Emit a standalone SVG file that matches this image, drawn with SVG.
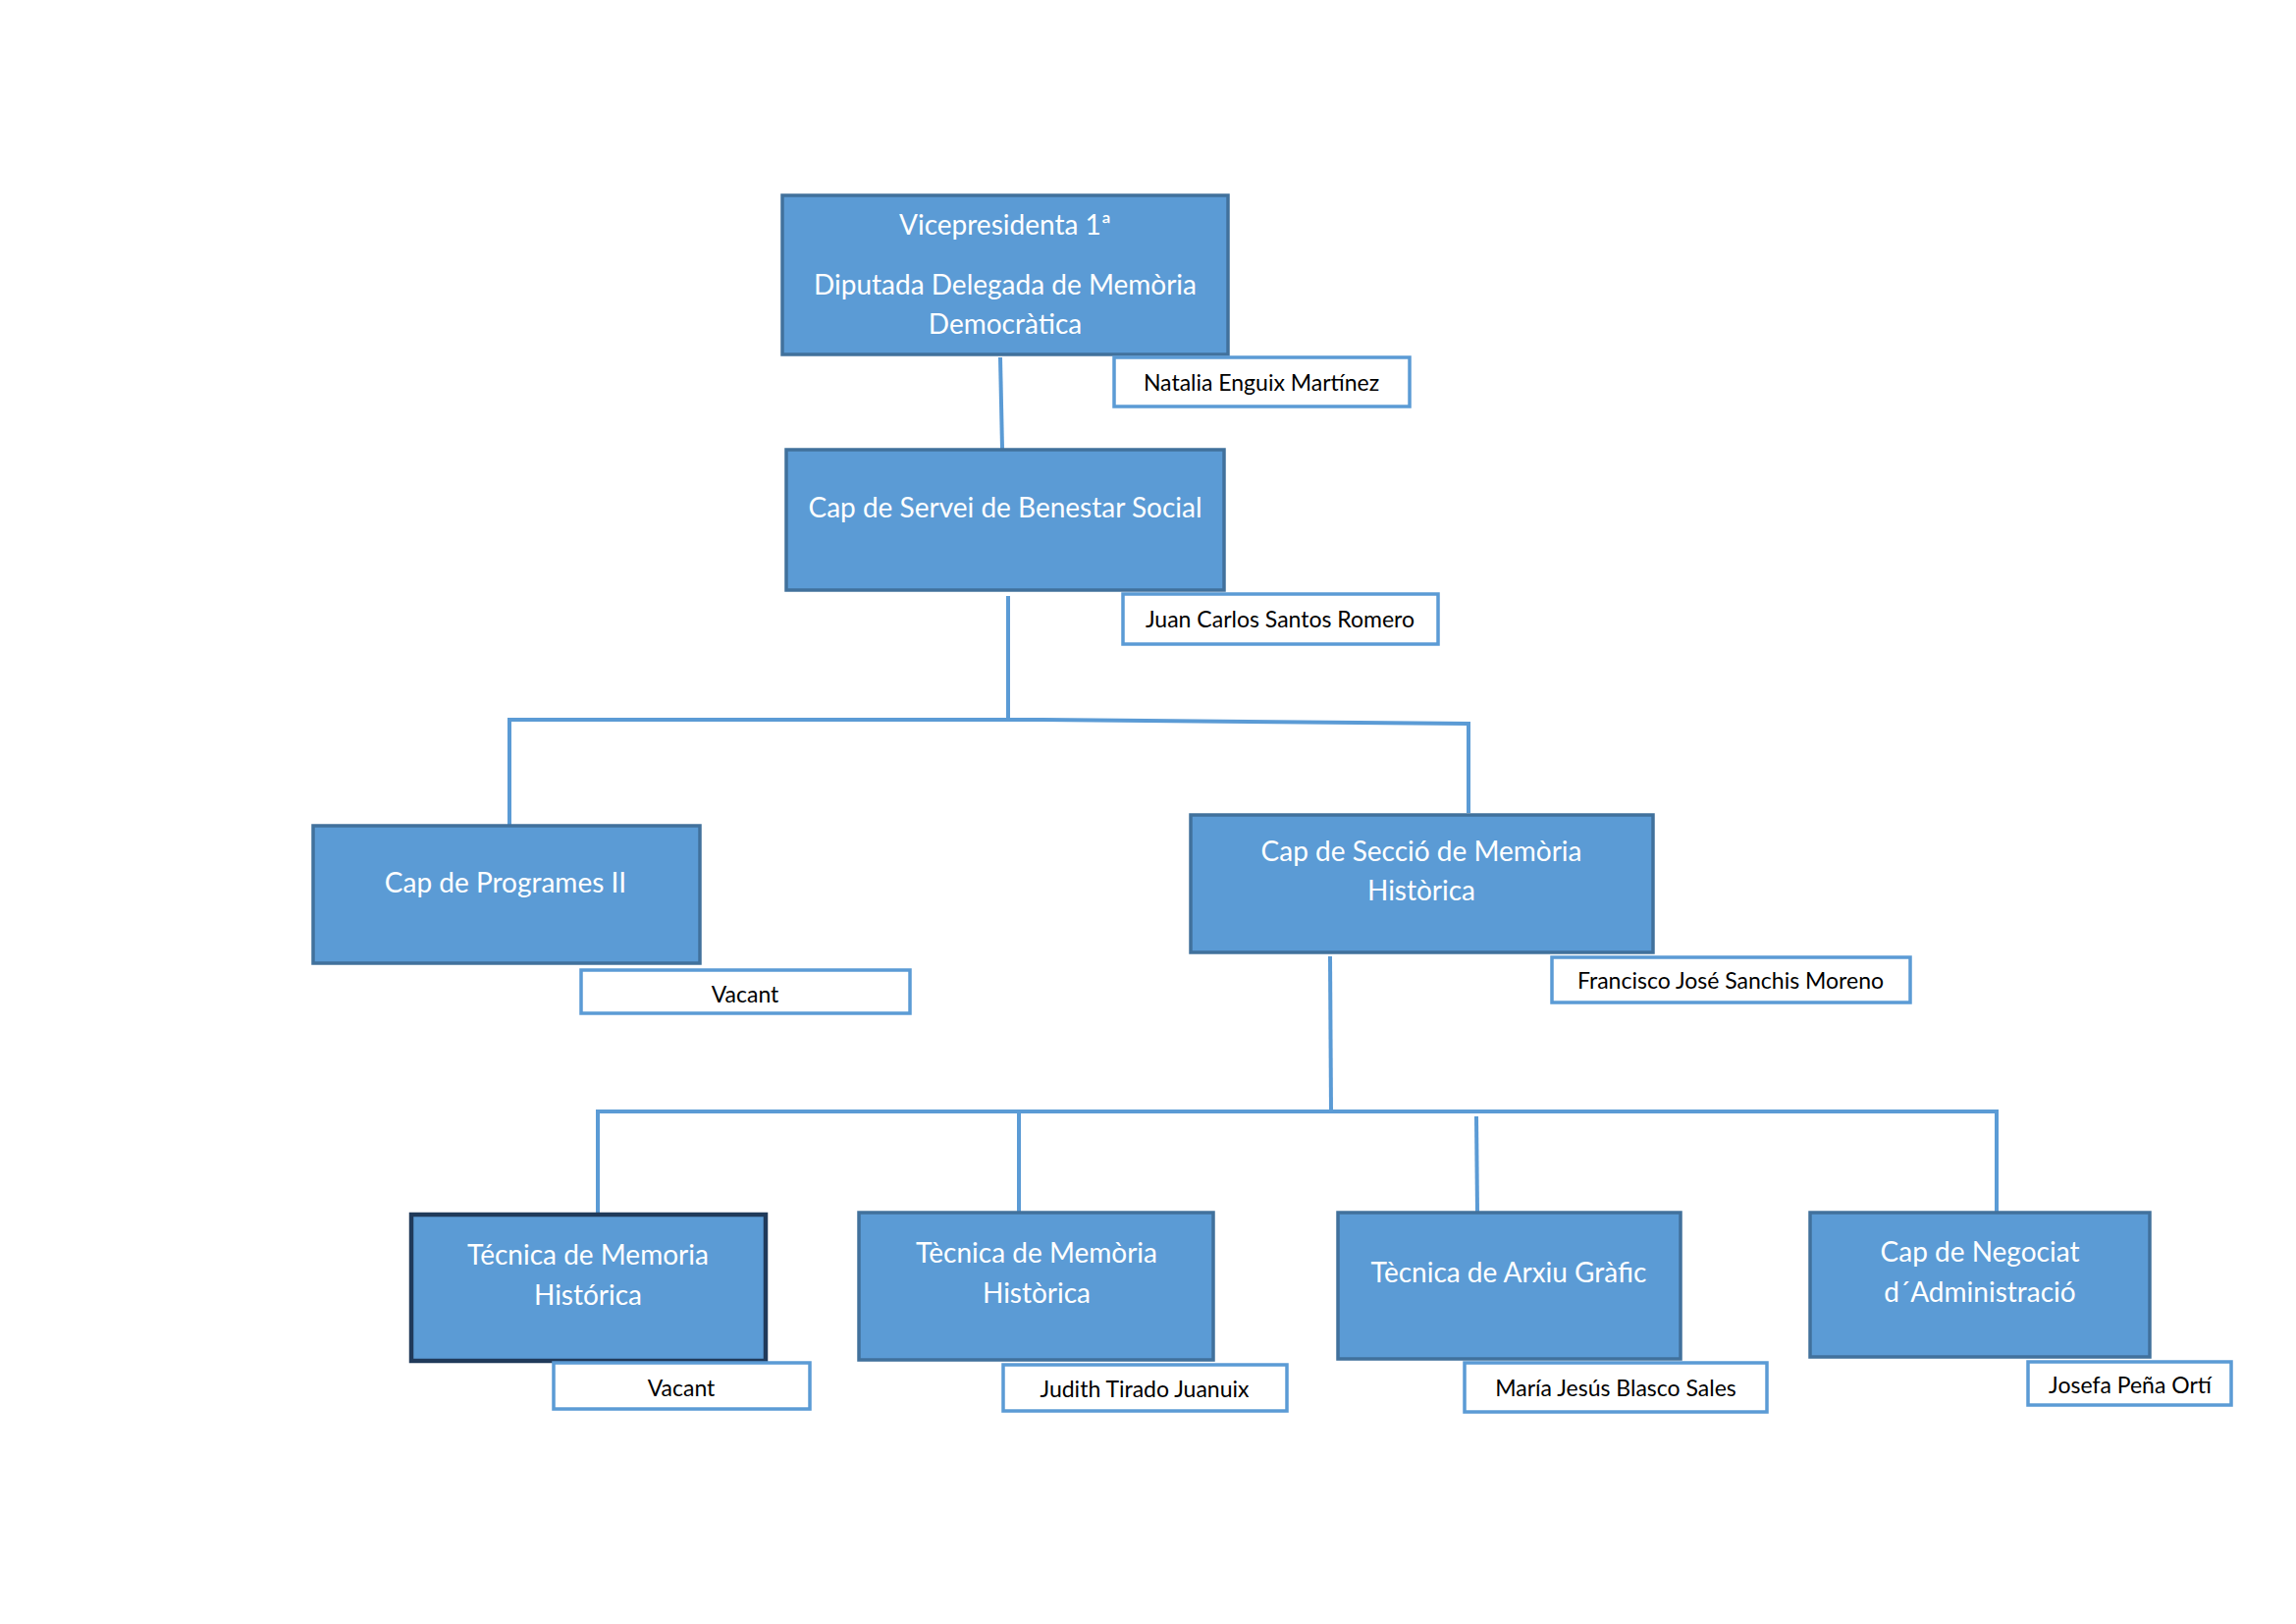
<svg xmlns="http://www.w3.org/2000/svg" width="2339" height="1654" viewBox="0 0 2339 1654">
<style>
.box{fill:#5B9BD5;stroke:#41719C;stroke-width:3.5}
.dark{fill:#5B9BD5;stroke:#203A5A;stroke-width:4.5}
.name{fill:#FFFFFF;stroke:#5B9BD5;stroke-width:3.5}
.t{font-family:Lato,"Liberation Sans",sans-serif;font-size:28px;fill:#FFFFFF;text-anchor:middle}
.n{font-family:Lato,"Liberation Sans",sans-serif;font-size:23px;fill:#000000;text-anchor:middle}
.c{fill:none;stroke:#5B9BD5;stroke-width:4}
</style>
<rect width="2339" height="1654" fill="#FFFFFF"/>
<g id="connectors">
<path class="c" d="M1019,364 L1021,457"/>
<path class="c" d="M1027,607 V733"/>
<path class="c" d="M519,840 V733 H1063 L1496,737 V828"/>
<path class="c" d="M1355,974 L1356,1132"/>
<path class="c" d="M609,1235 V1132 H2034 V1234"/>
<path class="c" d="M1038,1132 V1234"/>
<path class="c" d="M1504,1137 L1505,1234"/>
</g>
<g id="vicepresidenta">
<rect class="box" x="797" y="199" width="454" height="162"/>
<text class="t" x="1024" y="239">Vicepresidenta 1ª</text>
<text class="t" x="1024" y="300">Diputada Delegada de Memòria</text>
<text class="t" x="1024" y="340">Democràtica</text>
</g>
<g id="cap-servei">
<rect class="box" x="801" y="458" width="446" height="143"/>
<text class="t" x="1024" y="527">Cap de Servei de Benestar Social</text>
</g>
<g id="cap-programes">
<rect class="box" x="319" y="841" width="394" height="140"/>
<text class="t" x="515" y="909">Cap de Programes II</text>
</g>
<g id="cap-seccio">
<rect class="box" x="1213" y="830" width="471" height="140"/>
<text class="t" x="1448" y="877">Cap de Secció de Memòria</text>
<text class="t" x="1448" y="917">Històrica</text>
</g>
<g id="tecnica-memoria-historica">
<rect class="dark" x="419" y="1237" width="361" height="149"/>
<text class="t" x="599" y="1288">Técnica de Memoria</text>
<text class="t" x="599" y="1329">Histórica</text>
</g>
<g id="tecnica-memoria">
<rect class="box" x="875" y="1235" width="361" height="150"/>
<text class="t" x="1056" y="1286">Tècnica de Memòria</text>
<text class="t" x="1056" y="1327">Històrica</text>
</g>
<g id="tecnica-arxiu">
<rect class="box" x="1363" y="1235" width="349" height="149"/>
<text class="t" x="1537" y="1306">Tècnica de Arxiu Gràfic</text>
</g>
<g id="cap-negociat">
<rect class="box" x="1844" y="1235" width="346" height="147"/>
<text class="t" x="2017" y="1285">Cap de Negociat</text>
<text class="t" x="2017" y="1326">d´Administració</text>
</g>
<g id="name-natalia">
<rect class="name" x="1135" y="364" width="301" height="50"/>
<text class="n" x="1285" y="398">Natalia Enguix Martínez</text>
</g>
<g id="name-juan-carlos">
<rect class="name" x="1144" y="605" width="321" height="51"/>
<text class="n" x="1304" y="639">Juan Carlos Santos Romero</text>
</g>
<g id="name-vacant-programes">
<rect class="name" x="592" y="988" width="335" height="44"/>
<text class="n" x="759" y="1021">Vacant</text>
</g>
<g id="name-francisco">
<rect class="name" x="1581" y="975" width="365" height="46"/>
<text class="n" x="1763" y="1007">Francisco José Sanchis Moreno</text>
</g>
<g id="name-vacant-tecnica">
<rect class="name" x="564" y="1388" width="261" height="47"/>
<text class="n" x="694" y="1422">Vacant</text>
</g>
<g id="name-judith">
<rect class="name" x="1022" y="1390" width="289" height="47"/>
<text class="n" x="1166" y="1423">Judith Tirado Juanuix</text>
</g>
<g id="name-maria">
<rect class="name" x="1492" y="1388" width="308" height="50"/>
<text class="n" x="1646" y="1422">María Jesús Blasco Sales</text>
</g>
<g id="name-josefa">
<rect class="name" x="2066" y="1387" width="207" height="44"/>
<text class="n" x="2170" y="1419">Josefa Peña Ortí</text>
</g>
</svg>
